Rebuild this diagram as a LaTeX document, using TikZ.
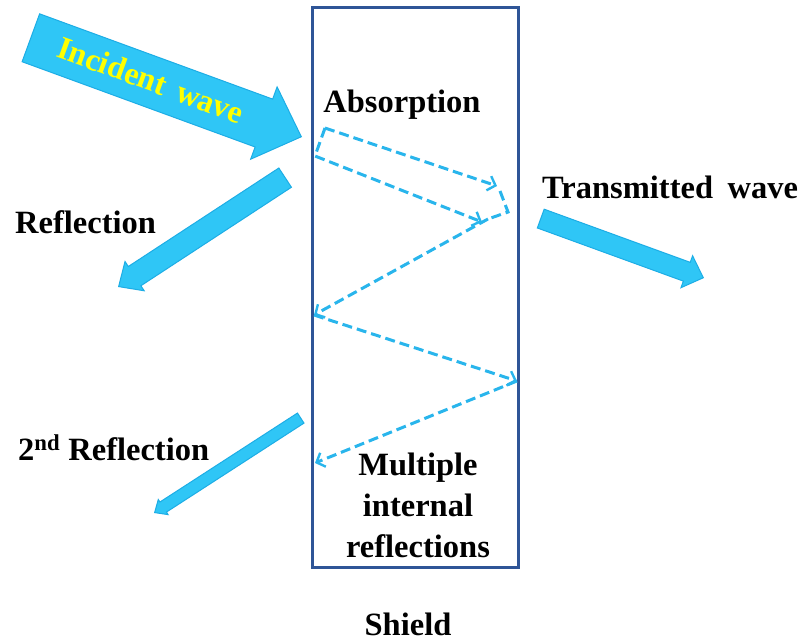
\documentclass[tikz,border=0pt]{standalone}
\usepackage{fontspec}
\setmainfont{Liberation Serif}
\usepackage{xcolor}
\usetikzlibrary{shapes.arrows, arrows.meta, positioning}
\definecolor{shieldblue}{HTML}{2F5597}
\definecolor{wavefill}{HTML}{2FC6F6}
\definecolor{waveedge}{HTML}{1DADE5}
\definecolor{bouncecyan}{HTML}{29B5EC}
\definecolor{incidentyellow}{HTML}{FFFF00}

\tikzset{
  wavearrow/.style={single arrow, draw=waveedge, fill=wavefill, line width=1pt,
    inner xsep=0pt, anchor=tip},
  bounce/.style={draw=bouncecyan, line width=3pt, dash pattern=on 10pt off 5pt,
    -{Straight Barb[length=7pt,width=15pt,line width=2.4pt]}},
  lbl/.style={font=\fontsize{32.5}{41}\selectfont\bfseries, inner sep=0pt}
}

\begin{document}
\begin{tikzpicture}[x=1pt, y=-1pt]
\useasboundingbox (0,0) rectangle (804,642);

% shield
\node[draw=shieldblue, line width=3pt, minimum width=206pt, minimum height=559pt] (shield) at (415,287.5) {};

% waves outside the shield
\node[wavearrow, rotate=-20.1, minimum height=288pt, inner ysep=25pt,
  single arrow head extend=13pt, single arrow tip angle=88] (incident) at (302,137) {};
\node[lbl, text=incidentyellow, rotate=-20.1, font=\fontsize{32}{38}\selectfont\bfseries] (incidentlbl) at (151,80) {Incident\hspace{0.15em} wave};
\node[wavearrow, rotate=213.2, minimum height=199pt, inner ysep=11pt,
  single arrow head extend=6pt, single arrow tip angle=85] (reflect) at (118,287) {};
\node[wavearrow, rotate=-20, minimum height=173pt, inner ysep=9.5pt,
  single arrow head extend=7pt, single arrow tip angle=88] (transmit) at (704,278) {};
\node[wavearrow, rotate=212.9, minimum height=174pt, inner ysep=5.5pt,
  single arrow head extend=3pt, single arrow tip angle=83] (reflecttwo) at (154,513) {};

% bounce points inside the shield
\coordinate (a1) at (325,128);
\coordinate (a2) at (497,186);
\coordinate (a3) at (315,156);
\coordinate (a4) at (482,222);
\coordinate (a5) at (500,191);
\coordinate (a6) at (508,212);
\coordinate (a7) at (488,219);
\coordinate (b1) at (314,315);
\coordinate (b2) at (517,381);
\coordinate (b3) at (315,463);

\draw[bounce] (a1) -- (a2);
\draw[bounce] (a1) -- (a3) -- (a4);
\draw[bounce, -] (a5) -- (a6) -- (a7);
\draw[bounce] (a7) -- (b1);
\draw[bounce] (b1) -- (b2);
\draw[bounce] (b2) -- (b3);

% labels
\node[lbl, anchor=base] (absorb) at (402,113) {Absorption};
\node[lbl, anchor=base west] (transmitlbl) at (542,198) {Transmitted\hspace{0.2em} wave};
\node[lbl, anchor=base west] (reflectlbl) at (15,233) {Reflection};
\node[lbl, anchor=base west] (reflecttwolbl) at (18,460) {2\textsuperscript{nd} Reflection};
\node[lbl, anchor=north, align=center] (multi) at (418,453) {Multiple\\internal\\reflections};
\node[lbl, anchor=base] (shieldlbl) at (408,635) {Shield};
\end{tikzpicture}
\end{document}
